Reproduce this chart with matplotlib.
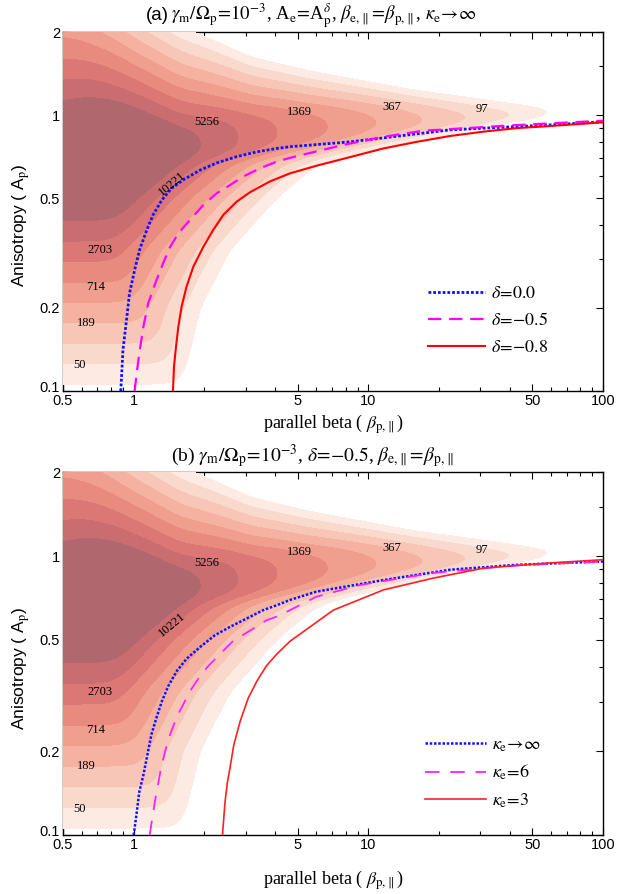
import numpy as np
import matplotlib.pyplot as plt
from matplotlib.ticker import FixedLocator, FixedFormatter, NullFormatter
from matplotlib.transforms import ScaledTranslation

plt.rcParams['font.family'] = ['Liberation Serif', 'DejaVu Serif']
plt.rcParams['mathtext.fontset'] = 'stix'

# contour levels of the observed (beta, A) distribution and band colours
levels = [50, 97, 189, 367, 714, 1369, 2703, 5256, 10221]
band_colors = ['#fceae3', '#fad9cd', '#f8c6b7', '#f5b2a1', '#f09e8d',
               '#e98a7f', '#db7774', '#c96d70', '#b0676d']

# smooth model of the distribution in (log10 beta, log10 A):
# ridge height, upper edge, lower-left edge and lower-right cut-off
ridge_u = [-0.50, 0.12, 0.24, 0.40, 0.55, 0.76, 0.98, 1.19, 1.40, 1.66, 1.85, 2.20]
ridge_k = [9.6, 9.6, 8.3, 7.3, 6.3, 5.3, 4.3, 3.3, 2.3, 1.3, 0.3, -2.0]
up_u = [-0.30, 0.0, 0.20, 0.31, 0.50, 0.75, 1.20, 1.55, 1.90]
up_edge = [0.668, 0.43, 0.32, 0.283, 0.21, 0.16, 0.09, 0.05, 0.01]
up_slope = [12.9, 20, 22, 24, 29, 34, 42, 40, 40]
low_edge = -0.975
low_slope = 13.5
cut_v = [-1.2, -1.0, -0.70, -0.49, -0.30, -0.17, -0.09, -0.04, 0.0, 0.1, 0.5]
cut_u = [0.15, 0.20, 0.283, 0.41, 0.61, 0.794, 1.2, 1.55, 1.9, 2.2, 2.4]
cut_slope = 13.6

# contour labels
label_text = ['50', '189', '714', '2703', '10221', '5256', '1369', '367', '97']
label_beta = [0.59, 0.627, 0.69, 0.72, 1.45, 2.05, 5.1, 12.6, 30.4]
label_aniso = [0.124, 0.177, 0.238, 0.325, 0.566, 0.946, 1.03, 1.07, 1.05]
label_rot = [0, 0, 0, 0, 40, 0, 0, 0, 0]

# (a) thresholds for different delta
beta_d00 = [0.881, 0.893, 0.90, 0.918, 0.939, 0.96, 1.01, 1.06, 1.137, 1.21, 1.32, 1.45,
            1.63, 1.92, 2.26, 2.75, 3.35, 4.07, 4.64, 8.4, 22.3, 59, 100]
aniso_d00 = [0.10, 0.123, 0.141, 0.162, 0.191, 0.226, 0.275, 0.325, 0.383, 0.435, 0.493, 0.543,
             0.583, 0.632, 0.671, 0.707, 0.736, 0.757, 0.768, 0.80, 0.884, 0.921, 0.945]
beta_d05 = [1.01, 1.03, 1.057, 1.10, 1.153, 1.25, 1.337, 1.43, 1.55, 1.74, 1.98, 2.26,
            2.57, 2.93, 3.45, 4.07, 4.64, 7.8, 11.6, 17.2, 42.9, 100]
aniso_d05 = [0.10, 0.116, 0.137, 0.171, 0.208, 0.252, 0.291, 0.333, 0.373, 0.417, 0.472, 0.521,
             0.557, 0.599, 0.641, 0.678, 0.70, 0.779, 0.835, 0.878, 0.92, 0.954]
beta_d08 = [1.47, 1.486, 1.515, 1.55, 1.60, 1.68, 1.795, 1.98, 2.18, 2.41, 2.75, 3.13,
            3.81, 4.64, 6.0, 8.4, 11.6, 16.1, 22.3, 31, 42.9, 59, 100]
aniso_d08 = [0.10, 0.123, 0.145, 0.171, 0.202, 0.239, 0.282, 0.333, 0.383, 0.435, 0.486, 0.525,
             0.575, 0.615, 0.655, 0.705, 0.757, 0.80, 0.84, 0.871, 0.897, 0.912, 0.942]

# (b) thresholds for different kappa_e
beta_kinf = [1.0, 1.03, 1.057, 1.10, 1.143, 1.19, 1.25, 1.32, 1.405, 1.53, 1.68, 1.92,
             2.22, 2.57, 3.03, 3.57, 4.07, 4.64, 6.0, 11.6, 22.3, 42.9, 100]
aniso_kinf = [0.10, 0.12, 0.143, 0.164, 0.193, 0.229, 0.263, 0.302, 0.342, 0.388, 0.428, 0.472,
              0.52, 0.557, 0.597, 0.64, 0.666, 0.696, 0.745, 0.82, 0.893, 0.93, 0.956]
beta_k6 = [1.17, 1.23, 1.30, 1.36, 1.43, 1.53, 1.60, 1.74, 1.92, 2.05, 2.33, 2.66,
           3.13, 3.68, 4.2, 4.64, 6.0, 9.2, 18.9, 42.9, 100]
aniso_k6 = [0.10, 0.131, 0.169, 0.199, 0.229, 0.267, 0.286, 0.328, 0.372, 0.398, 0.445, 0.497,
            0.54, 0.588, 0.613, 0.64, 0.714, 0.787, 0.87, 0.926, 0.955]
beta_k3 = [2.39, 2.45, 2.51, 2.57, 2.67, 2.84, 3.08, 3.35, 3.68, 4.07, 4.64,
           7.1, 11.6, 18.9, 31, 59, 100]
aniso_k3 = [0.10, 0.131, 0.155, 0.173, 0.21, 0.255, 0.31, 0.356, 0.404, 0.445, 0.495,
            0.64, 0.756, 0.833, 0.905, 0.944, 0.97]


def blur(a, sy, sx):
    # separable gaussian smoothing, widths in grid cells
    for axis, s in ((0, sy), (1, sx)):
        r = int(3 * s)
        k = np.exp(-0.5 * (np.arange(-r, r + 1) / s) ** 2)
        k /= k.sum()
        pad = [(0, 0), (0, 0)]
        pad[axis] = (r, r)
        ap = np.pad(a, pad, mode='edge')
        a = np.apply_along_axis(lambda m: np.convolve(m, k, mode='valid'), axis, ap)
    return a


# density field on a log grid (a little wider than the axes)
uu = np.linspace(-0.45, 2.15, 680)
vv = np.linspace(-1.15, 0.45, 560)
U, V = np.meshgrid(uu, vv)
terms = [np.interp(U, ridge_u, ridge_k),
         np.interp(U, up_u, up_slope) * (np.interp(U, up_u, up_edge) - V),
         low_slope * (V - low_edge),
         cut_slope * (np.interp(V, cut_v, cut_u) - U)]
tau = 0.35
K = -tau * np.log(sum(np.exp(-np.clip(t, -60, 60) / tau) for t in terms))
K = blur(K, 0.022 / (vv[1] - vv[0]), 0.035 / (uu[1] - uu[0]))
ratio = (levels[-1] / levels[0]) ** (1 / 8)
counts = levels[0] * ratio ** K


def draw_panel(ax, xlabel_pad):
    # filled contours sit above the frame, as in the original figure
    ax.contourf(10 ** U, 10 ** V, counts, levels=levels + [1e12], colors=band_colors, zorder=2.6)
    for t, b, a, r in zip(label_text, label_beta, label_aniso, label_rot):
        ax.text(b, a, t, fontsize=9, rotation=r, ha='center', va='center', zorder=4)
    ax.set_xscale('log')
    ax.set_yscale('log')
    ax.set_xlim(0.5, 100)
    ax.set_ylim(0.1, 2)
    ax.xaxis.set_major_locator(FixedLocator([0.5, 1, 5, 10, 50, 100]))
    ax.xaxis.set_major_formatter(FixedFormatter(['0.5', '1', '5', '10', '50', '100']))
    ax.xaxis.set_minor_locator(FixedLocator([0.6, 0.7, 0.8, 0.9, 2, 3, 4, 6, 7, 8, 9,
                                             20, 30, 40, 60, 70, 80, 90]))
    ax.xaxis.set_minor_formatter(NullFormatter())
    ax.yaxis.set_major_locator(FixedLocator([0.1, 0.2, 0.5, 1, 2]))
    ax.yaxis.set_major_formatter(FixedFormatter(['0.1', '0.2', '0.5', '1', '2']))
    ax.yaxis.set_minor_locator(FixedLocator([0.3, 0.4, 0.6, 0.7, 0.8, 0.9, 1.5]))
    ax.yaxis.set_minor_formatter(NullFormatter())
    ax.tick_params(which='both', direction='in', top=True, right=True, width=0.8)
    ax.tick_params(which='major', length=5, labelsize=10.5, pad=2)
    ax.tick_params(which='minor', length=3)
    for lab in ax.get_xticklabels() + ax.get_yticklabels():
        lab.set_fontfamily('Liberation Sans')
    low = ax.get_yticklabels()[0]
    low.set_transform(low.get_transform() + ScaledTranslation(0, 3 / 72, fig.dpi_scale_trans))
    for s in ax.spines.values():
        s.set_linewidth(1.0)
    ax.set_ylabel(r'Anisotropy ( A$_{\rm p}$)', fontsize=12.5, family='Liberation Sans')
    ax.yaxis.set_label_coords(-0.058, 0.46)
    ax.set_xlabel(r'parallel beta ( $\beta_{\rm p,\!\parallel}$)', fontsize=13, labelpad=xlabel_pad)


fig = plt.figure(figsize=(6.29, 8.94), dpi=100)
ax1 = fig.add_axes([0.1002, 0.5626, 0.8585, 0.4016])
ax2 = fig.add_axes([0.1002, 0.0660, 0.8585, 0.4060])

draw_panel(ax1, 3)
ax1.plot(beta_d00, aniso_d00, color='#1010ff', lw=2.0, ls=(0, (1, 0.7)), zorder=3,
         label=r'$\delta\!=\!0.0$')
ax1.plot(beta_d05, aniso_d05, color='#ff00ff', lw=1.6, ls=(0, (6, 3.5)), zorder=3,
         label=r'$\delta\!=\!{-}0.5$')
ax1.plot(beta_d08, aniso_d08, color='#ff0000', lw=1.5, zorder=3, label=r'$\delta\!=\!{-}0.8$')
ax1.legend(loc='center left', bbox_to_anchor=(0.675, 0.196), frameon=False, fontsize=13,
           handlelength=3.2, handletextpad=0.3, labelspacing=0.55, borderpad=0, borderaxespad=0)
fig.text(146 / 629, 1 - 16 / 894, '(a)', fontsize=13.5, family='Liberation Sans', va='center')
fig.text(171 / 629, 1 - 16 / 894,
         r'$\gamma_{\rm m}/\Omega_{\rm p}\!=\!10^{-3}$, A$_{\rm e}\!=\!$A$_{\rm p}^{\delta}$, '
         r'$\beta_{\rm e,\!\parallel}\!=\!\beta_{\rm p,\!\parallel}$, $\kappa_{\rm e}\!\rightarrow\!\infty$',
         fontsize=13.5, va='center')

draw_panel(ax2, 12)
ax2.plot(beta_kinf, aniso_kinf, color='#1010ff', lw=1.8, ls=(0, (1, 0.7)), zorder=3,
         label=r'$\kappa_{\rm e}\!\rightarrow\!\infty$')
ax2.plot(beta_k6, aniso_k6, color='#ff20ff', lw=1.3, ls=(0, (8, 6)), zorder=3,
         label=r'$\kappa_{\rm e}\!=\!6$')
ax2.plot(beta_k3, aniso_k3, color='#ff2020', lw=1.2, zorder=3, label=r'$\kappa_{\rm e}\!=\!3$')
ax2.legend(loc='center left', bbox_to_anchor=(0.67, 0.17), frameon=False, fontsize=13,
           handlelength=3.4, handletextpad=0.3, labelspacing=0.5, borderpad=0, borderaxespad=0)
fig.text(0.497, 1 - 456 / 894,
         r'(b) $\gamma_{\rm m}/\Omega_{\rm p}\!=\!10^{-3}$, $\delta\!=\!{-}0.5$, '
         r'$\beta_{\rm e,\!\parallel}\!=\!\beta_{\rm p,\!\parallel}$', fontsize=14,
         ha='center', va='center')

fig.savefig('out.png', dpi=100)
